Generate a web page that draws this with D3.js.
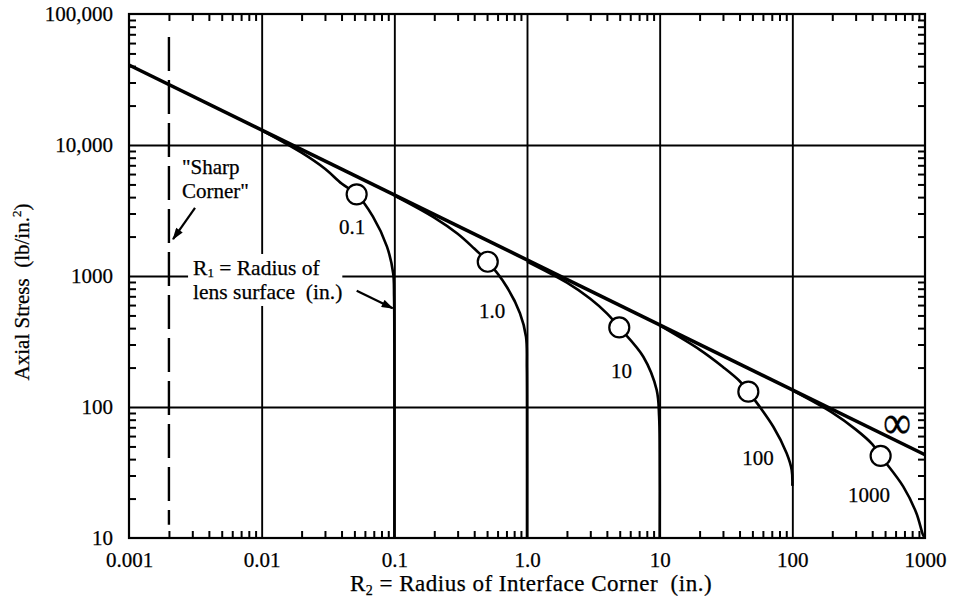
<!DOCTYPE html>
<html><head><meta charset="utf-8">
<script src="https://cdn.jsdelivr.net/npm/d3@7"></script>
<style>
body{margin:0;background:#fff;}
svg{display:block;}
text{font-family:"Liberation Serif","Times New Roman",serif;fill:#000;stroke:#000;stroke-width:0.25px;}
</style></head><body>
<svg id="chart" width="958" height="605"></svg>
<script>
// ---------- data ----------
const xTickValues = [0.001, 0.01, 0.1, 1, 10, 100, 1000];
const xTickLabels = ["0.001", "0.01", "0.1", "1.0", "10", "100", "1000"];
const yTickValues = [10, 100, 1000, 10000, 100000];
const yTickLabels = ["10", "100", "1000", "10,000", "100,000"];

const infinityR2 = [0.001, 1000];
const infinityStress = [40800, 43.2];

const r1Labels = ["0.1", "1.0", "10", "100", "1000"];

const curveR1_01_R2 = [0.01, 0.02, 0.03, 0.04, 0.052, 0.069, 0.088, 0.098, 0.0995, 0.1, 0.1];
const curveR1_01_S  = [12940, 8730, 6580, 5080, 4200, 2840, 1675, 1050, 700, 300, 10];
const curveR1_1_R2  = [0.1, 0.2, 0.3, 0.4, 0.506, 0.703, 0.885, 0.983, 0.997, 1, 1];
const curveR1_1_S   = [4110, 2790, 2100, 1620, 1285, 828, 519, 344, 200, 100, 10];
const curveR1_10_R2 = [1, 2, 3, 4, 4.96, 7.53, 9.49, 9.9, 10, 10];
const curveR1_10_S  = [1290, 889, 670, 518, 405, 242, 135, 85, 45, 10];
const curveR1_100_R2 = [10, 20, 30, 40, 46.6, 71.9, 90.6, 98.9, 100];
const curveR1_100_S  = [419, 274, 202, 158, 131, 70.7, 44.3, 33, 25];
const curveR1_1000_R2 = [100, 200, 300, 400, 463, 686, 863, 968, 1000];
const curveR1_1000_S  = [134, 90.6, 67.5, 52.1, 42.3, 24.7, 15.4, 10.5, 10];

const circleR2 = [0.052, 0.506, 4.96, 46.6, 463];
const circleStress = [4200, 1285, 405, 131, 42.3];

const labelR2 = [0.048, 0.545, 5.15, 55.1, 378];
const labelStress = [2094, 478, 166, 36.1, 18.8];

const sharpCornerR2 = 0.002;
const sharpCornerStress = [66700, 12.6];

// ---------- layout ----------
const W = 958, H = 605;
const margin = {left: 129, right: 33, top: 14, bottom: 67};
const x0 = margin.left, x1 = W - margin.right, y0 = margin.top, y1 = H - margin.bottom;

const svg = d3.select("#chart");
svg.append("rect").attr("width", W).attr("height", H).attr("fill", "#fff");

const x = d3.scaleLog().domain([0.001, 1000]).range([x0, x1]);
const y = d3.scaleLog().domain([10, 100000]).range([y1, y0]);

const minorX = [], minorY = [];
for (let e = -3; e < 3; e++) for (let m = 2; m <= 9; m++) minorX.push(m * Math.pow(10, e));
for (let e = 1; e < 5; e++) for (let m = 2; m <= 9; m++) minorY.push(m * Math.pow(10, e));
const innerX = xTickValues.slice(1, -1), innerY = yTickValues.slice(1, -1);

// gridlines
const grid = svg.append("g");
grid.append("g").attr("transform", `translate(0,${y1})`)
  .call(d3.axisBottom(x).tickValues(innerX).tickSize(-(y1 - y0)).tickFormat(""))
  .call(g => g.select(".domain").remove());
grid.append("g").attr("transform", `translate(${x0},0)`)
  .call(d3.axisLeft(y).tickValues(innerY).tickSize(-(x1 - x0)).tickFormat(""))
  .call(g => g.select(".domain").remove());
grid.selectAll("line").attr("stroke", "#000").attr("stroke-width", 1.9);

// minor ticks on four sides (inward)
const tk = 7;
const minors = svg.append("g");
minors.append("g").attr("transform", `translate(0,${y1})`).call(d3.axisBottom(x).tickValues(minorX).tickSize(-tk).tickFormat(""));
minors.append("g").attr("transform", `translate(0,${y0})`).call(d3.axisTop(x).tickValues(minorX).tickSize(-tk).tickFormat(""));
minors.append("g").attr("transform", `translate(${x0},0)`).call(d3.axisLeft(y).tickValues(minorY).tickSize(-tk).tickFormat(""));
minors.append("g").attr("transform", `translate(${x1},0)`).call(d3.axisRight(y).tickValues(minorY).tickSize(-tk).tickFormat(""));
minors.selectAll(".domain").remove();
minors.selectAll("line").attr("stroke", "#000").attr("stroke-width", 2);

// frame
svg.append("rect").attr("x", x0).attr("y", y0).attr("width", x1 - x0).attr("height", y1 - y0)
  .attr("fill", "none").attr("stroke", "#000").attr("stroke-width", 2.2);

// tick labels
const fs = 21;
const xl = svg.append("g").attr("transform", `translate(0,${y1})`)
  .call(d3.axisBottom(x).tickValues(xTickValues).tickSize(0).tickPadding(14)
    .tickFormat((d, i) => xTickLabels[i]));
xl.select(".domain").remove();
xl.selectAll("text").attr("font-size", fs).attr("font-family", "Liberation Serif").attr("fill", "#000");
const yl = svg.append("g").attr("transform", `translate(${x0},0)`)
  .call(d3.axisLeft(y).tickValues(yTickValues).tickSize(0).tickPadding(16)
    .tickFormat((d, i) => yTickLabels[i]));
yl.select(".domain").remove();
yl.selectAll("text").attr("font-size", fs).attr("font-family", "Liberation Serif").attr("fill", "#000");

// axis titles
const xt = svg.append("text").attr("x", 531).attr("y", 591).attr("text-anchor", "middle")
  .attr("font-size", 23).attr("letter-spacing", 0.5);
xt.append("tspan").text("R");
xt.append("tspan").text("2").attr("font-size", 14).attr("dy", 4);
xt.append("tspan").text(" = Radius of Interface Corner\u00a0\u00a0(in.)").attr("dy", -4);

const yt = svg.append("text").attr("transform", `translate(29,${(y0 + y1) / 2 + 16}) rotate(-90)`)
  .attr("text-anchor", "middle").attr("font-size", fs);
yt.append("tspan").text("Axial Stress\u00a0\u00a0(lb/in.");
yt.append("tspan").text("2").attr("font-size", 13).attr("dy", -8);
yt.append("tspan").text(")").attr("dy", 8);

// R1 annotation with white background
const ann = svg.append("g");
const annX = x(0.00304);
const annL1 = ann.append("text").attr("x", annX).attr("y", y(1018)).attr("font-size", 21.5);
annL1.append("tspan").text("R");
annL1.append("tspan").text("1").attr("font-size", 13).attr("dy", 2.5);
annL1.append("tspan").text(" = Radius of").attr("dy", -2.5);
ann.append("text").attr("x", annX).attr("y", y(1018) + 24).attr("font-size", 21.5).text("lens surface\u00a0\u00a0(in.)");
const bb = ann.node().getBBox();
ann.insert("rect", "text").attr("x", bb.x - 5).attr("y", bb.y - 2).attr("width", bb.width + 5).attr("height", bb.height + 4)
  .attr("fill", "#fff").attr("stroke", "none");

// sharp corner dashed line
svg.append("line").attr("x1", x(sharpCornerR2)).attr("x2", x(sharpCornerR2))
  .attr("y1", y(sharpCornerStress[0])).attr("y2", y(sharpCornerStress[1]))
  .attr("stroke", "#000").attr("stroke-width", 2.4).attr("stroke-dasharray", "34,9");

const scX = x(0.00251);
svg.append("text").attr("x", scX).attr("y", y(6010)).attr("font-size", fs).text("\"Sharp");
svg.append("text").attr("x", scX).attr("y", y(6010) + 24).attr("font-size", fs).text("Corner\"");

// arrows
const defs = svg.append("defs");
defs.append("marker").attr("id", "ah").attr("viewBox", "0 0 12 8").attr("refX", 11).attr("refY", 4)
  .attr("markerWidth", 13).attr("markerHeight", 8).attr("markerUnits", "userSpaceOnUse").attr("orient", "auto")
  .append("path").attr("d", "M0,0 L12,4 L0,8 Z").attr("fill", "#000");
const arrows = [
  [[0.003145, 3305], [0.002148, 1914]],
  [[0.05204, 773], [0.0972, 567]]
];
arrows.forEach(a => svg.append("line")
  .attr("x1", x(a[0][0])).attr("y1", y(a[0][1])).attr("x2", x(a[1][0])).attr("y2", y(a[1][1]))
  .attr("stroke", "#000").attr("stroke-width", 2.2).attr("marker-end", "url(#ah)"));

// infinity line
const line = d3.line().x(d => x(d[0])).y(d => y(d[1]));
svg.append("path").datum(d3.zip(infinityR2, infinityStress)).attr("d", line)
  .attr("fill", "none").attr("stroke", "#000").attr("stroke-width", 3.6);

// finite R1 curves
const curveLine = d3.line().x(d => x(d[0])).y(d => y(d[1])).curve(d3.curveCatmullRom.alpha(0.5));
const curves = [
  d3.zip(curveR1_01_R2, curveR1_01_S),
  d3.zip(curveR1_1_R2, curveR1_1_S),
  d3.zip(curveR1_10_R2, curveR1_10_S),
  d3.zip(curveR1_100_R2, curveR1_100_S),
  d3.zip(curveR1_1000_R2, curveR1_1000_S)
];
svg.append("g").selectAll("path").data(curves).join("path").attr("d", curveLine)
  .attr("fill", "none").attr("stroke", "#000").attr("stroke-width", 2.6);

// circles
svg.append("g").selectAll("circle").data(d3.zip(circleR2, circleStress)).join("circle")
  .attr("cx", d => x(d[0])).attr("cy", d => y(d[1])).attr("r", 10)
  .attr("fill", "#fff").attr("stroke", "#000").attr("stroke-width", 2.2);

// curve labels
svg.append("g").selectAll("text").data(r1Labels).join("text")
  .attr("x", (d, i) => x(labelR2[i])).attr("y", (d, i) => y(labelStress[i]))
  .attr("text-anchor", "middle").attr("font-size", fs).text(d => d);

// infinity symbol
svg.append("g").attr("transform", `translate(${x(615)},${y(74.1)}) scale(1.25,1.5)`)
  .append("text").attr("x", 0).attr("y", 0).attr("dy", "0.3em").attr("text-anchor", "middle")
  .attr("font-family", "DejaVu Serif").attr("font-size", 31).attr("stroke-width", 0.6).text("\u221e");
</script>
</body></html>
